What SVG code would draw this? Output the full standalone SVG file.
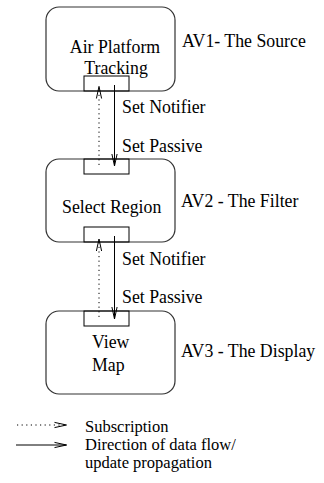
<svg xmlns="http://www.w3.org/2000/svg" width="324" height="483" viewBox="0 0 324 483">
<defs>
<style>
.box{fill:none;stroke:#333;stroke-width:1.2}
.port{fill:none;stroke:#000;stroke-width:1}
text{font-family:"Liberation Serif","Times New Roman",serif;font-size:17.8px;fill:#000}
.c{text-anchor:middle}
.lg{font-size:16.5px}
.solid{fill:none;stroke:#000;stroke-width:1}
.dot{fill:none;stroke:#000;stroke-width:1;stroke-dasharray:1.2 3.4}
.head{fill:none;stroke:#000;stroke-width:1}
</style>
<marker id="ah" markerUnits="userSpaceOnUse" viewBox="-13 -4 14 8" refX="0" refY="0" markerWidth="14" markerHeight="8" orient="auto">
<path class="head" d="M-12,-2.6 L0,0 L-12,2.6"/>
</marker>
</defs>
<rect width="324" height="483" fill="#fff"/>
<g id="av1">
<rect class="box" x="46" y="7" width="129" height="84" rx="13"/>
<rect class="port" x="84" y="76" width="45" height="15"/>
<text class="c" x="115" y="53">Air Platform</text>
<text class="c" x="116" y="74">Tracking</text>
<text x="182" y="47">AV1- The Source</text>
</g>
<g id="av2">
<rect class="box" x="46" y="159" width="129" height="83" rx="13"/>
<rect class="port" x="84" y="159" width="45" height="15"/>
<rect class="port" x="84" y="227" width="45" height="15"/>
<text class="c" x="111.7" y="213">Select Region</text>
<text x="181" y="207">AV2 - The Filter</text>
</g>
<g id="av3">
<rect class="box" x="46" y="311" width="129" height="83" rx="13"/>
<rect class="port" x="84" y="311" width="45" height="15"/>
<text x="92" y="348">View</text>
<text x="92" y="371">Map</text>
<text x="181" y="357">AV3 - The Display</text>
</g>
<g id="connectors">
<line class="dot" x1="99" y1="165" x2="99" y2="86.5" marker-end="url(#ah)"/>
<line class="solid" x1="114.5" y1="85" x2="114.5" y2="166" marker-end="url(#ah)"/>
<line class="dot" x1="99" y1="317" x2="99" y2="239" marker-end="url(#ah)"/>
<line class="solid" x1="114.5" y1="236" x2="114.5" y2="319" marker-end="url(#ah)"/>
<text x="122" y="113">Set Notifier</text>
<text x="122" y="152">Set Passive</text>
<text x="122" y="265">Set Notifier</text>
<text x="122" y="303">Set Passive</text>
</g>
<g id="legend">
<line class="dot" x1="17" y1="425" x2="66.5" y2="425" marker-end="url(#ah)"/>
<line class="solid" x1="16" y1="445" x2="66.5" y2="445" marker-end="url(#ah)"/>
<text class="lg" x="85" y="432">Subscription</text>
<text class="lg" x="85" y="450">Direction of data flow/</text>
<text class="lg" x="85" y="468">update propagation</text>
</g>
</svg>
